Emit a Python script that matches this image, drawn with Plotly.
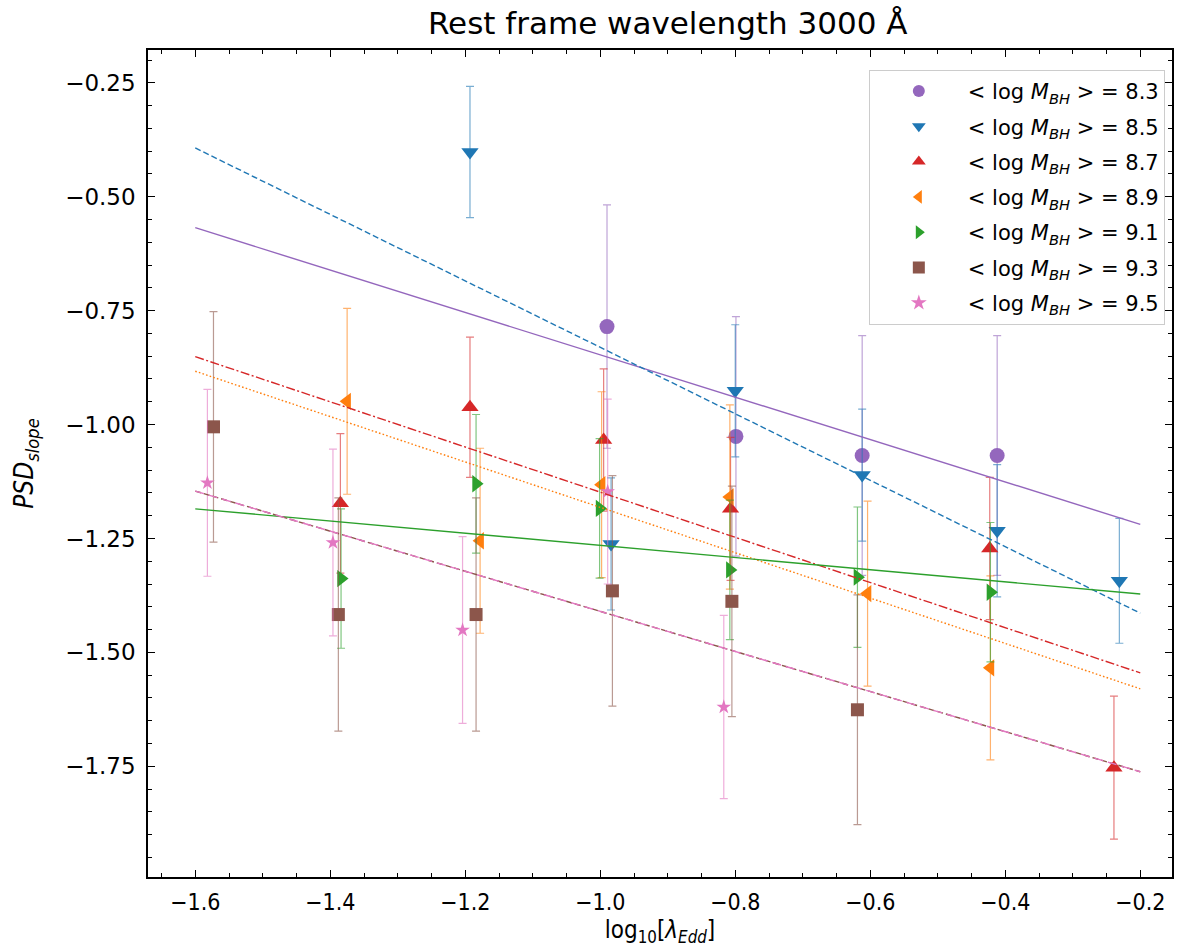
import plotly.graph_objects as go

# ---------------- data ----------------
labels = ["8.3", "8.5", "8.7", "8.9", "9.1", "9.3", "9.5"]
colors = ["#9467bd", "#1f77b4", "#d62728", "#ff7f0e", "#2ca02c", "#8c564b", "#e377c2"]
symbols = ["circle", "triangle-down", "triangle-up", "triangle-left", "triangle-right", "square", "star"]
msizes = [15, 15, 15, 15, 15, 13, 11]

x_83 = [-0.990, -0.799, -0.612, -0.412]
y_83 = [-0.785, -1.026, -1.068, -1.068]
e_83 = [0.267, 0.263, 0.263, 0.263]

x_85 = [-1.193, -0.984, -0.800, -0.612, -0.412, -0.231]
y_85 = [-0.402, -1.262, -0.926, -1.111, -1.233, -1.343]
e_85 = [0.144, 0.145, 0.145, 0.145, 0.145, 0.137]

x_87 = [-1.385, -1.193, -0.995, -0.807, -0.423, -0.239]
y_87 = [-1.173, -0.962, -1.034, -1.185, -1.272, -1.753]
e_87 = [0.153, 0.154, 0.156, 0.157, 0.156, 0.157]

x_89 = [-1.375, -1.178, -0.998, -0.808, -0.604, -0.422]
y_89 = [-0.949, -1.255, -1.132, -1.159, -1.371, -1.534]
e_89 = [0.204, 0.203, 0.204, 0.202, 0.203, 0.202]

x_91 = [-1.384, -1.184, -1.001, -0.808, -0.619, -0.422]
y_91 = [-1.338, -1.130, -1.184, -1.319, -1.335, -1.368]
e_91 = [0.153, 0.152, 0.153, 0.153, 0.154, 0.153]

x_93 = [-1.573, -1.388, -1.184, -0.982, -0.805, -0.619]
y_93 = [-1.005, -1.417, -1.417, -1.365, -1.388, -1.626]
e_93 = [0.253, 0.256, 0.256, 0.253, 0.253, 0.252]

x_95 = [-1.582, -1.396, -1.204, -0.989, -0.817]
y_95 = [-1.128, -1.259, -1.451, -1.147, -1.620]
e_95 = [0.205, 0.205, 0.205, 0.203, 0.201]

# linear fits: value at x = -1.6 and x = -0.2
fit_x = [-1.6, -0.2]
fit_start = [-0.568, -0.393, -0.851, -0.883, -1.185, -1.146, -1.146]
fit_end = [-1.219, -1.414, -1.545, -1.580, -1.372, -1.762, -1.762]
fit_dash = ["solid", "6px,3px", "9px,2.5px,2px,2.5px", "1.6px,2.2px", "solid", "6px,3px", "9px,5px"]

xs = [x_83, x_85, x_87, x_89, x_91, x_93, x_95]
ys = [y_83, y_85, y_87, y_89, y_91, y_93, y_95]
es = [e_83, e_85, e_87, e_89, e_91, e_93, e_95]


def rgba(hexc, a):
    h = hexc.lstrip("#")
    return "rgba(%d,%d,%d,%s)" % (int(h[0:2], 16), int(h[2:4], 16), int(h[4:6], 16), a)


COND = "DejaVu Sans Condensed, Liberation Sans Narrow, Roboto Condensed, Roboto, sans-serif"
WIDE = "DejaVu Sans, Verdana, sans-serif"

fig = go.Figure()

for i in range(len(labels)):
    fig.add_trace(go.Scatter(
        x=xs[i], y=ys[i], mode="markers",
        marker=dict(symbol=symbols[i], size=msizes[i], color=colors[i], line=dict(width=0)),
        error_y=dict(type="data", array=es[i], visible=True, color=rgba(colors[i], 0.6),
                     thickness=1.2, width=4),
        name="&lt; log <i>M</i><sub><i>BH</i></sub> &gt; = " + labels[i],
        legendgroup="g%d" % i,
        showlegend=True,
    ))

for i in range(len(labels)):
    fig.add_trace(go.Scatter(
        x=fit_x, y=[fit_start[i], fit_end[i]], mode="lines",
        line=dict(color=colors[i], width=1.4, dash=fit_dash[i]),
        showlegend=False, hoverinfo="skip",
    ))

axis_common = dict(
    showgrid=False, zeroline=False, showline=True, linecolor="black", linewidth=1.5,
    mirror="allticks", ticks="inside", ticklen=7, tickwidth=1.2, tickcolor="black",
    automargin=False,
)

fig.update_xaxes(
    range=[-1.670, -0.153], tick0=-1.6, dtick=0.2, tickformat=".1f",
    minor=dict(ticks="inside", dtick=0.05, ticklen=4, tickwidth=1, tickcolor="black"),
    tickfont=dict(family=COND, size=23, color="black"),
    ticklabelstandoff=4,
    title=dict(text="log<sub>10</sub>[<i>λ</i><sub><i>Edd</i></sub>]",
               font=dict(family=COND, size=24, color="black"), standoff=10),
    **axis_common,
)
fig.update_yaxes(
    range=[-1.993, -0.178], tick0=-0.25, dtick=0.25, tickformat=".2f",
    minor=dict(ticks="inside", dtick=0.05, ticklen=4, tickwidth=1, tickcolor="black"),
    tickfont=dict(family=WIDE, size=23, color="black"),
    ticklabelstandoff=6,
    title=dict(text="<i>PSD</i><sub><i>slope</i></sub>",
               font=dict(family=COND, size=26, color="black"), standoff=24),
    **axis_common,
)

fig.update_layout(
    width=1186, height=947,
    margin=dict(l=148, r=14, t=50, b=70),
    paper_bgcolor="white", plot_bgcolor="white",
    title=dict(text="Rest frame wavelength 3000 Å", x=0.563, xanchor="center", y=0.976,
               yanchor="middle", font=dict(family=WIDE, size=31, color="black")),
    legend=dict(x=0.993, y=0.976, xanchor="right", yanchor="top",
                bgcolor="rgba(255,255,255,0.85)", bordercolor="#cccccc", borderwidth=1,
                font=dict(family=WIDE, size=21, color="black"),
                tracegroupgap=5, itemwidth=88, itemsizing="constant"),
    showlegend=True,
)

fig.write_html("out.html")
